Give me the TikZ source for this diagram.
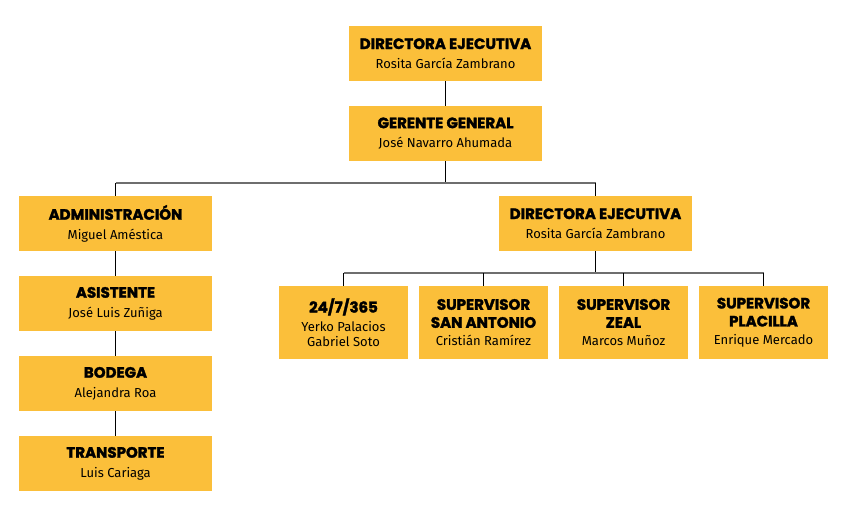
\documentclass[tikz,border=0pt]{standalone}
\usepackage{fontspec}
\setmainfont{Fira Sans}
\newfontfamily\hfont{Poppins}[BoldFeatures={FakeBold=2}]
\definecolor{boxy}{HTML}{FBBF3A}
\definecolor{lgray}{HTML}{6E6E6E}
\tikzset{
  box/.style={fill=boxy, inner sep=0pt, align=center},
  wide/.style={box, minimum width=193pt, minimum height=55pt, font=\fontsize{13}{19.5}\selectfont},
  narrow/.style={box, minimum width=129pt, minimum height=73pt, font=\fontsize{13}{18}\selectfont},
  conn/.style={draw=black, line width=0.8pt},
  bar/.style={draw=lgray, line width=1.5pt}
}
\newcommand{\hd}[1]{{\hfont\bfseries\fontsize{15}{18}\selectfont #1}}
\begin{document}
\begin{tikzpicture}[x=1pt,y=-1pt]
\useasboundingbox (0,0) rectangle (850,517);
\node[wide] (dir) at (445.5,53.5) {\hd{DIRECTORA EJECUTIVA}\\Rosita García Zambrano};
\node[wide] (ger) at (445.5,133.5) {\hd{GERENTE GENERAL}\\José Navarro Ahumada};
\node[wide] (adm) at (115.5,223.5) {\hd{ADMINISTRACIÓN}\\Miguel Améstica};
\node[wide] (asi) at (115.5,303.5) {\hd{ASISTENTE}\\José Luis Zuñiga};
\node[wide] (bod) at (115.5,383.5) {\hd{BODEGA}\\Alejandra Roa};
\node[wide] (tra) at (115.5,463.5) {\hd{TRANSPORTE}\\Luis Cariaga};
\node[wide] (dir2) at (595.5,223.5) {\hd{DIRECTORA EJECUTIVA}\\Rosita García Zambrano};
\node[narrow] (s1) at (343.5,322.5) {\hd{24/7/365}\\[1pt]Yerko Palacios\\[-3pt]Gabriel Soto};
\node[narrow] (s2) at (483.5,322.5) {\hd{SUPERVISOR}\\\hd{SAN ANTONIO}\\Cristián Ramírez};
\node[narrow] (s3) at (623.5,322.5) {\hd{SUPERVISOR}\\\hd{ZEAL}\\Marcos Muñoz};
\node[narrow] (s4) at (763.5,322.5) {\hd{SUPERVISOR}\\\hd{PLACILLA}\\Enrique Mercado};
\coordinate (b1) at (0,183);
\coordinate (b2) at (0,273);
\draw[conn] (dir.south) -- (ger.north);
\draw[conn] (ger.south) -- (ger.south |- b1);
\draw[bar] (adm.north |- b1) -- (dir2.north |- b1);
\draw[conn] (adm.north |- b1) -- (adm.north);
\draw[conn] (dir2.north |- b1) -- (dir2.north);
\draw[conn] (adm.south) -- (asi.north);
\draw[conn] (asi.south) -- (bod.north);
\draw[conn] (bod.south) -- (tra.north);
\draw[conn] (dir2.south) -- (dir2.south |- b2);
\draw[bar] (s1.north |- b2) -- (s4.north |- b2);
\foreach \s in {s1,s2,s3,s4} \draw[conn] (\s.north |- b2) -- (\s.north);
\end{tikzpicture}
\end{document}
